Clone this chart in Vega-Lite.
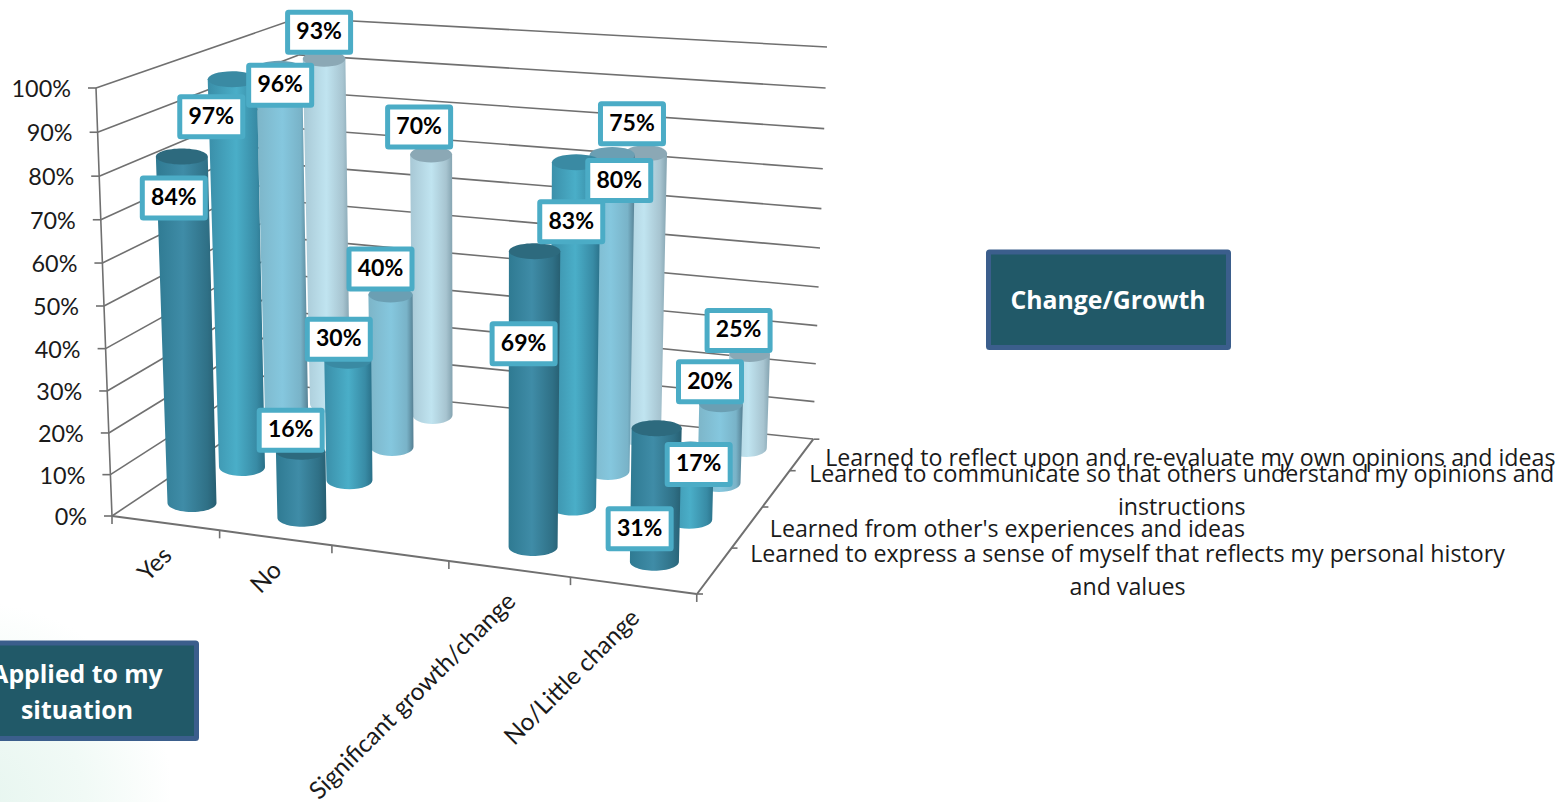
{
"$schema":"https://vega.github.io/schema/vega-lite/v6.json",
"width":1565,"height":802,"padding":0,"autosize":"none","background":"white",
"config":{"view":{"stroke":null}},
"datasets":{
"grid":[{"pct":0},{"pct":10},{"pct":20},{"pct":30},{"pct":40},{"pct":50},{"pct":60},{"pct":70},{"pct":80},{"pct":90},{"pct":100}],
"slots":[{"t":0},{"t":1},{"t":2},{"t":3},{"t":4},{"t":5}],
"depth":[{"d":0},{"d":1},{"d":2},{"d":3},{"d":4}],
"cats":[{"category":"Yes","t":0},{"category":"No","t":1},{"category":"Significant growth/change","t":3},{"category":"No/Little change","t":4}],
"depthLabels":[
{"series":"Learned to express a sense of myself that reflects my personal history and values","s":0,"line":0,"text":"Learned to express a sense of myself that reflects my personal history"},
{"series":"Learned to express a sense of myself that reflects my personal history and values","s":0,"line":1,"text":"and values"},
{"series":"Learned from other's experiences and ideas","s":1,"line":0,"text":"Learned from other's experiences and ideas"},
{"series":"Learned to communicate so that others understand my opinions and instructions","s":2,"line":0,"text":"Learned to communicate so that others understand my opinions and"},
{"series":"Learned to communicate so that others understand my opinions and instructions","s":2,"line":1,"text":"instructions"},
{"series":"Learned to reflect upon and re-evaluate my own opinions and ideas","s":3,"line":0,"text":"Learned to reflect upon and re-evaluate my own opinions and ideas"}
]
},
"data":{"values":[
{"series":"reflect","category":"Yes","value":93},
{"series":"reflect","category":"No","value":70},
{"series":"reflect","category":"Significant growth/change","value":75},
{"series":"reflect","category":"No/Little change","value":25},
{"series":"communicate","category":"Yes","value":96},
{"series":"communicate","category":"No","value":40},
{"series":"communicate","category":"Significant growth/change","value":80},
{"series":"communicate","category":"No/Little change","value":20},
{"series":"others","category":"Yes","value":97},
{"series":"others","category":"No","value":30},
{"series":"others","category":"Significant growth/change","value":83},
{"series":"others","category":"No/Little change","value":17},
{"series":"express","category":"Yes","value":84},
{"series":"express","category":"No","value":16},
{"series":"express","category":"Significant growth/change","value":69},
{"series":"express","category":"No/Little change","value":31}
]},
"transform":[
{"calculate":"indexof(['Yes','No','','Significant growth/change','No/Little change'],datum.category)","as":"t"},
{"calculate":"indexof(['express','others','communicate','reflect'],datum.series)","as":"s"},
{"calculate":"[192,242,287,330][datum.s]+(108-2*datum.s)*datum.t+(1.9-0.45*datum.s)*datum.t*datum.t","as":"bx"},
{"calculate":"[512,476,444,413][datum.s]+[14.7,13.2,12,11][datum.s]*datum.t-9","as":"by"},
{"calculate":"[4.04,3.9,3.72,3.62][datum.s]+0.001*datum.value+[0.06,0.055,0.05,0.03][datum.s]*datum.t","as":"k"},
{"calculate":"-0.16+0.3*(datum.bx-100)/715","as":"lean"},
{"calculate":"datum.bx+datum.lean*datum.value","as":"tx"},
{"calculate":"datum.by-datum.k*datum.value","as":"ty"},
{"calculate":"[24.5,23,21.5,20][datum.s]","as":"hb"},
{"calculate":"datum.hb*(1+0.0007*datum.value)","as":"ht"},
{"calculate":"[[[-8,41.5],[-10,-21.5],0,[-11,92.5],[-17,100.5]],[[-21,37.5],[-9,-21.5],0,[-5,59.5],[8,15]],[[1,16.5],[-10,-25.5],0,[7,25.5],[-11,-22.5]],[[-5,-26.5],[-12,-27.5],0,[-14,-29.5],[-11,-23.5]]][datum.s][datum.t]","as":"off"},
{"calculate":"datum.tx+datum.off[0]","as":"labx"},
{"calculate":"datum.ty+datum.off[1]","as":"laby"},
{"calculate":"datum.labx-31.5","as":"boxL"},
{"calculate":"datum.labx+31.5","as":"boxR"},
{"calculate":"datum.laby-20","as":"boxT"},
{"calculate":"datum.laby+20","as":"boxB"},
{"calculate":"datum.value+'%'","as":"label"}
],
"layer":[
{"data":{"values":[{"k":"glow"}]},
 "mark":{"type":"rect","fill":{"gradient":"radial","x1":0,"y1":1,"r1":0,"x2":0,"y2":1,"r2":1,"stops":[{"offset":0,"color":"#e6f5ef"},{"offset":0.5,"color":"#f1faf6"},{"offset":0.9,"color":"#ffffff"},{"offset":1,"color":"#ffffff"}]}},
 "encoding":{
  "x":{"datum":0,"type":"quantitative","scale":{"domain":[0,1565],"range":[0,1565],"nice":false,"zero":false},"axis":null},
  "x2":{"datum":170},
  "y":{"datum":580,"type":"quantitative","scale":{"domain":[802,0],"range":[802,0],"nice":false,"zero":false},"axis":null},
  "y2":{"datum":802}}},
{"data":{"name":"grid"},
 "transform":[
  {"calculate":"112-0.16*datum.pct","as":"lx"},
  {"calculate":"516-4.12*datum.pct-0.0016*datum.pct*datum.pct","as":"ly"},
  {"calculate":"305-0.07*datum.pct","as":"cx"},
  {"calculate":"387-3.69*datum.pct","as":"cy"},
  {"calculate":"813+0.14*datum.pct","as":"rx"},
  {"calculate":"439-3.72*datum.pct-0.002*datum.pct*datum.pct","as":"ry"},
  {"calculate":"datum.lx-8","as":"tickx"},
  {"calculate":"datum.ly+2","as":"laby"}
 ],
 "layer":[
  {"mark":{"type":"rule","stroke":"#707070","strokeWidth":1.6},"encoding":{"x":{"field":"lx","type":"quantitative"},"y":{"field":"ly","type":"quantitative"},"x2":{"field":"cx"},"y2":{"field":"cy"}}},
  {"mark":{"type":"rule","stroke":"#707070","strokeWidth":1.6},"encoding":{"x":{"field":"cx","type":"quantitative"},"y":{"field":"cy","type":"quantitative"},"x2":{"field":"rx"},"y2":{"field":"ry"}}},
  {"mark":{"type":"rule","stroke":"#707070","strokeWidth":1.6},"encoding":{"x":{"field":"tickx","type":"quantitative"},"y":{"field":"ly","type":"quantitative"},"x2":{"field":"lx"},"y2":{"field":"ly"}}},
  {"mark":{"type":"line","stroke":"#707070","strokeWidth":1.6},"encoding":{"x":{"field":"lx","type":"quantitative"},"y":{"field":"ly","type":"quantitative"},"order":{"field":"pct"}}},
  {"mark":{"type":"text","align":"right","baseline":"middle","font":"Lato","fontSize":23.4,"fill":"#1a1a1a"},"transform":[{"calculate":"datum.lx-25","as":"tx2"},{"calculate":"datum.pct+'%'","as":"lab"}],"encoding":{"x":{"field":"tx2","type":"quantitative"},"y":{"field":"laby","type":"quantitative"},"text":{"field":"lab"}}}
 ]},
{"data":{"name":"slots"},
 "transform":[
  {"calculate":"112+105.3*datum.t+2.33*datum.t*datum.t","as":"fx"},
  {"calculate":"516+(datum.fx-112)*78/585","as":"fy"},
  {"calculate":"datum.fy+8","as":"fy2"}
 ],
 "layer":[
  {"mark":{"type":"line","stroke":"#707070","strokeWidth":2},"encoding":{"x":{"field":"fx","type":"quantitative"},"y":{"field":"fy","type":"quantitative"},"order":{"field":"t"}}},
  {"mark":{"type":"rule","stroke":"#707070","strokeWidth":1.6},"encoding":{"x":{"field":"fx","type":"quantitative"},"y":{"field":"fy","type":"quantitative"},"y2":{"field":"fy2"}}}
 ]},
{"data":{"name":"depth"},
 "transform":[
  {"calculate":"594-48.3*datum.d+2.4*datum.d*datum.d","as":"dy"},
  {"calculate":"697+(594-datum.dy)*118/157","as":"dx"},
  {"calculate":"datum.dx+6","as":"dx2"}
 ],
 "layer":[
  {"mark":{"type":"line","stroke":"#707070","strokeWidth":2},"encoding":{"x":{"field":"dx","type":"quantitative"},"y":{"field":"dy","type":"quantitative"},"order":{"field":"d"}}},
  {"mark":{"type":"rule","stroke":"#707070","strokeWidth":1.6},"encoding":{"x":{"field":"dx","type":"quantitative"},"y":{"field":"dy","type":"quantitative"},"x2":{"field":"dx2"},"y2":{"field":"dy"}}}
 ]},
{"data":{"name":"cats"},
 "transform":[
  {"calculate":"112+105.3*(datum.t+0.5)+2.33*(datum.t+0.5)*(datum.t+0.5)+3","as":"cx"},
  {"calculate":"516+(datum.cx-115)*78/585+29","as":"cy"}
 ],
 "mark":{"type":"text","align":"right","baseline":"middle","angle":315,"font":"Lato","fontSize":24.4,"fill":"#1a1a1a"},
 "encoding":{"x":{"field":"cx","type":"quantitative"},"y":{"field":"cy","type":"quantitative"},"text":{"field":"category"}}},
{"data":{"name":"depthLabels"},
 "transform":[
  {"calculate":"594-48.3*(datum.s+1)+2.4*(datum.s+1)*(datum.s+1)","as":"dy"},
  {"calculate":"697+(594-datum.dy)*118/157+6","as":"dx"},
  {"calculate":"datum.dx+[390,239,386,371][datum.s]","as":"lx"},
  {"calculate":"datum.dy+[7,23,4,20][datum.s]+33*datum.line","as":"ly"}
 ],
 "mark":{"type":"text","align":"center","baseline":"middle","font":"Open Sans","fontSize":23.2,"fill":"#1a1a1a"},
 "encoding":{"x":{"field":"lx","type":"quantitative"},"y":{"field":"ly","type":"quantitative"},"text":{"field":"text"}}},
{"transform":[
  {"fold":["bodyPath0","topPath0"],"as":["part","dummy"]},
  {"calculate":"datum.part=='bodyPath0' ? 'M'+(-datum.ht)+',0L'+(datum.bx-datum.tx-datum.hb)+','+(datum.by-datum.ty)+'A'+datum.hb+',9,0,0,0,'+(datum.bx-datum.tx+datum.hb)+','+(datum.by-datum.ty)+'L'+datum.ht+',0Z' : 'M'+(-datum.ht)+',0A'+datum.ht+',8,0,1,0,'+datum.ht+',0A'+datum.ht+',8,0,1,0,'+(-datum.ht)+',0Z'","as":"path"},
  {"calculate":"datum.s+(datum.part=='bodyPath0'?'b':'t')","as":"key"}
 ],
 "mark":{"type":"point","filled":true,"opacity":1,"size":4,"strokeWidth":0},
 "encoding":{
  "x":{"field":"tx","type":"quantitative"},
  "y":{"field":"ty","type":"quantitative"},
  "shape":{"field":"path","type":"nominal","scale":null,"legend":null},
  "color":{"field":"key","type":"nominal","legend":null,"scale":{
    "domain":["0b","1b","2b","3b","0t","1t","2t","3t"],
    "range":[
     {"expr":"{gradient:'linear',x1:0,y1:0,x2:1,y2:0,stops:[{offset:0,color:'#2f7a92'},{offset:0.45,color:'#3f8ca7'},{offset:0.85,color:'#2f7086'},{offset:1,color:'#275f72'}]}"},
     {"expr":"{gradient:'linear',x1:0,y1:0,x2:1,y2:0,stops:[{offset:0,color:'#3a8ea8'},{offset:0.5,color:'#4aaec8'},{offset:0.85,color:'#388ba5'},{offset:1,color:'#2a7088'}]}"},
     {"expr":"{gradient:'linear',x1:0,y1:0,x2:1,y2:0,stops:[{offset:0,color:'#7db5c8'},{offset:0.5,color:'#85c7de'},{offset:0.85,color:'#79b3c8'},{offset:1,color:'#557f92'}]}"},
     {"expr":"{gradient:'linear',x1:0,y1:0,x2:1,y2:0,stops:[{offset:0,color:'#a8c8d5'},{offset:0.5,color:'#c0e4f0'},{offset:0.85,color:'#a7c4d0'},{offset:1,color:'#84a3b0'}]}"},
     "#2d6a7e","#3a8aa3","#6b9fb3","#8ba8b5"
    ]}}}},
{"mark":{"type":"rect","fill":"white","stroke":"#4bacc6","strokeWidth":5,"cornerRadius":1},
 "encoding":{"x":{"field":"boxL","type":"quantitative"},"x2":{"field":"boxR"},"y":{"field":"boxT","type":"quantitative"},"y2":{"field":"boxB"}}},
{"mark":{"type":"text","align":"center","baseline":"middle","font":"Lato","fontWeight":"bold","fontSize":23,"fill":"black"},
 "encoding":{"x":{"field":"labx","type":"quantitative"},"y":{"field":"laby","type":"quantitative"},"text":{"field":"label"}}},
{"data":{"values":[{"box":"Change/Growth"}]},
 "mark":{"type":"rect","fill":"#215968","stroke":"#3b5e8c","strokeWidth":5,"cornerRadius":1},
 "encoding":{"x":{"datum":988.5,"type":"quantitative"},"x2":{"datum":1228.5},"y":{"datum":252,"type":"quantitative"},"y2":{"datum":347.5}}},
{"data":{"values":[{"box":"Applied to my situation"}]},
 "mark":{"type":"rect","fill":"#215968","stroke":"#3b5e8c","strokeWidth":5,"cornerRadius":1},
 "encoding":{"x":{"datum":-45,"type":"quantitative"},"x2":{"datum":196.5},"y":{"datum":643,"type":"quantitative"},"y2":{"datum":738.5}}},
{"data":{"values":[{"text":"Change/Growth","line":0},{"text":"Applied to my","line":1},{"text":"situation","line":2}]},
 "transform":[
  {"calculate":"[1108,77,77][datum.line]","as":"bx"},
  {"calculate":"[302,675.5,711.5][datum.line]","as":"by"}
 ],
 "mark":{"type":"text","align":"center","baseline":"middle","font":"Open Sans","fontWeight":"bold","fontSize":24.8,"fill":"white"},
 "encoding":{"x":{"field":"bx","type":"quantitative"},"y":{"field":"by","type":"quantitative"},"text":{"field":"text"}}}
]
}
